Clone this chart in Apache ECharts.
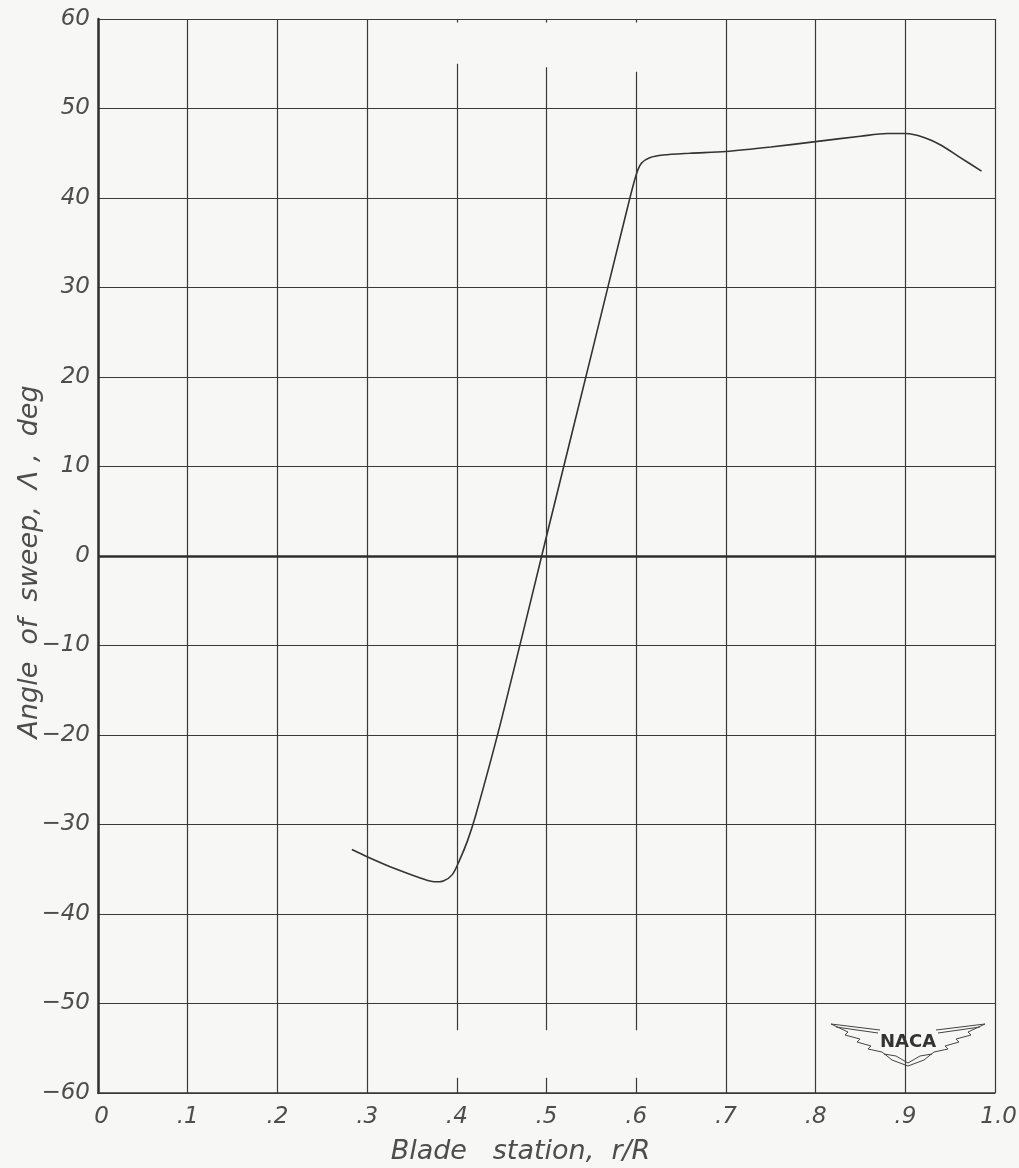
<!DOCTYPE html>
<html>
<head>
<meta charset="utf-8">
<script src="https://cdn.jsdelivr.net/npm/echarts@6/dist/echarts.min.js"></script>
<style>
html,body{margin:0;padding:0;background:#f7f7f5;}
#chart{width:1019px;height:1168px;}
</style>
</head>
<body>
<div id="chart"></div>
<script>
// ---- data ----
const stationX = [0.283, 0.30, 0.33, 0.36, 0.375, 0.385, 0.395, 0.403, 0.412, 0.421, 0.45, 0.50, 0.55, 0.59, 0.600, 0.606, 0.615, 0.63, 0.66, 0.70, 0.75, 0.80, 0.85, 0.88, 0.90, 0.92, 0.94, 0.96, 0.985];
const sweepY   = [-32.8, -33.6, -34.9, -36.0, -36.4, -36.3, -35.6, -34.0, -31.8, -29.0, -18.2, 2.2, 22.5, 38.8, 42.6, 43.9, 44.5, 44.8, 45.0, 45.2, 45.7, 46.3, 46.9, 47.2, 47.2, 46.8, 45.9, 44.6, 43.0];
const xTicks = [0.1, 0.2, 0.3, 0.4, 0.5, 0.6, 0.7, 0.8, 0.9, 1.0];
const brokenX = [0.4, 0.5, 0.6];
const brokenTop = [55.0, 54.6, 54.1];
const brokenBottom = [-53.0, -53.0, -53.0];
const yZero = 0;

const lineColor = '#3a3a3a';
const labelFont = {color:'#4d4d4d', fontSize:23, fontStyle:'italic', fontFamily:'DejaVu Sans', fontWeight:'normal'};
const nameFont = {color:'#4d4d4d', fontSize:27, fontStyle:'italic', fontFamily:'DejaVu Sans', fontWeight:'normal'};

// build vertical grid segments
const vSegs = [];
xTicks.forEach(x => {
  const bi = brokenX.findIndex(b => Math.abs(b - x) < 1e-9);
  if (bi < 0) {
    vSegs.push([{coord:[x,-60]},{coord:[x,60]}]);
  } else {
    vSegs.push([{coord:[x,brokenBottom[bi]]},{coord:[x,brokenTop[bi]]}]);
    vSegs.push([{coord:[x,59.6]},{coord:[x,60]}]);
    vSegs.push([{coord:[x,-60]},{coord:[x,-58.3]}]);
  }
});

// NACA emblem outline (decoration, local pixel coords)
const wingL = [[-77,-19],[-60,-11],[-63,-8],[-48,-4],[-51,-1],[-37,3],[-40,6],[-26,9],[-16,17],[0,23]];
const wingR = wingL.map(p => [-p[0], p[1]]);
const emblemStyle = {fill:null, stroke:'#444', lineWidth:1};

const chart = echarts.init(document.getElementById('chart'), null, {renderer:'canvas'});
chart.setOption({
  backgroundColor:'#f7f7f5',
  animation:false,
  grid:{left:98, right:24, top:19, bottom:75, containLabel:false, outerBoundsMode:'none'},
  xAxis:{
    type:'value', min:0, max:1, interval:0.1,
    axisLine:{show:true, onZero:false, lineStyle:{color:lineColor, width:1.5}},
    axisTick:{show:false},
    splitLine:{show:false},
    axisLabel:Object.assign({margin:13, formatter:v => {
      if (Math.abs(v) < 1e-9) return ' 0';
      if (Math.abs(v-1) < 1e-9) return ' 1.0';
      return '.' + Math.round(v*10);
    }}, labelFont),
    name:'Blade   station,  r/R', nameLocation:'middle', nameGap:45,
    nameTextStyle:Object.assign({}, nameFont, {padding:[0,52,0,0]})
  },
  yAxis:{
    type:'value', min:-60, max:60, interval:10,
    axisLine:{show:true, onZero:false, lineStyle:{color:'#2e2e2e', width:2.5}},
    axisTick:{show:false},
    splitLine:{show:true, lineStyle:{color:lineColor, width:1.2}},
    axisLabel:Object.assign({margin:8, formatter:v => v < 0 ? '\u2212' + Math.abs(v) : String(v)}, labelFont),
    name:'Angle  of  sweep,  \u039B ,  deg', nameLocation:'middle', nameGap:55, nameMoveOverlap:false,
    nameTextStyle:Object.assign({}, nameFont, {padding:[0,0,0,-12]})
  },
  series:[
    {
      type:'line', data:[], silent:true,
      markLine:{silent:true, symbol:['none','none'], label:{show:false},
        lineStyle:{color:lineColor, width:1.2, type:'solid'}, data:vSegs}
    },
    {
      type:'line', data:[], silent:true,
      markLine:{silent:true, symbol:['none','none'], label:{show:false},
        lineStyle:{color:'#2e2e2e', width:2.5, type:'solid'}, data:[{yAxis:yZero}]}
    },
    {
      type:'line', data:stationX.map((x,i)=>[x, sweepY[i]]),
      showSymbol:false, smooth:0.3,
      lineStyle:{color:'#333', width:1.6}
    }
  ],
  graphic:[{
    type:'group', x:908, y:1043, silent:true,
    children:[
      {type:'polyline', shape:{points:wingL}, style:emblemStyle},
      {type:'polyline', shape:{points:wingR}, style:emblemStyle},
      {type:'line', shape:{x1:-77,y1:-19,x2:-28,y2:-13}, style:emblemStyle},
      {type:'line', shape:{x1:-72,y1:-16,x2:-30,y2:-10}, style:emblemStyle},
      {type:'line', shape:{x1:77,y1:-19,x2:28,y2:-13}, style:emblemStyle},
      {type:'line', shape:{x1:72,y1:-16,x2:30,y2:-10}, style:emblemStyle},
      {type:'polyline', shape:{points:[[-24,11],[-12,13],[0,20],[12,13],[24,11]]}, style:emblemStyle},
      {type:'text', x:0, y:-1, style:{text:'NACA', fill:'#333', font:'bold 18px "DejaVu Sans"', align:'center', verticalAlign:'middle'}}
    ]
  }]
});
</script>
</body>
</html>
